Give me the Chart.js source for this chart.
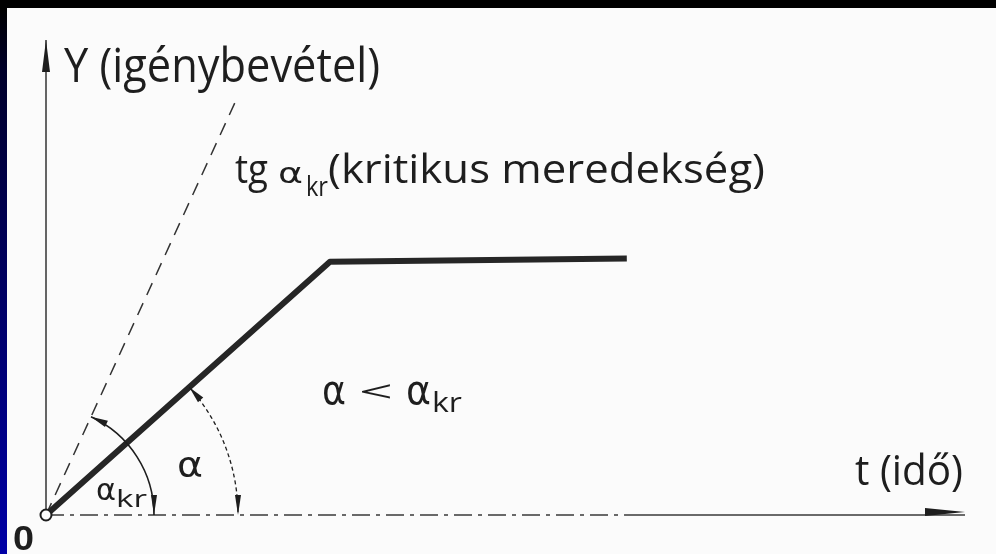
<!DOCTYPE html>
<html>
<head>
<meta charset="utf-8">
<title>Igénybevétel – kritikus meredekség</title>
<script src="https://cdn.jsdelivr.net/npm/chart.js@4.4.0/dist/chart.umd.min.js"></script>
<style>
  html, body { margin: 0; padding: 0; width: 996px; height: 554px; overflow: hidden; }
  body {
    position: relative;
    background: linear-gradient(to bottom, #000 0px, #000 8px, #00002a 70px, #0000a6 554px);
  }
  .paper { position: absolute; left: 7px; top: 8px; right: 0; bottom: 0; background: #fbfbfb; }
  canvas { position: absolute; left: 0; top: 0; }
</style>
</head>
<body>
<div class="paper"></div>
<canvas id="chart" width="996" height="554"></canvas>
<script>
// load curve: ramps up, then stays level
const loadT = [0, 3.09, 6.32];
const loadY = [0, 5.33, 5.40];
// critical slope line
const critT = [0, 2.07];
const critY = [0, 8.74];
// axis extents, time axis is dashed up to dashEndT
const tMax = 10;
const yMax = 10;
const dashEndT = 6.3;

const ink = '#1e1e1e';
const plain = '{s}px "Open Sans", "DejaVu Sans", sans-serif';
const greek = '{s}px "DejaVu Sans", sans-serif';

const pts = (xs, ys) => xs.map((x, i) => ({ x, y: ys[i] }));

function arrowHead(ctx, tipX, tipY, dx, dy, len, half) {
  const bx = tipX - dx * len, by = tipY - dy * len;
  ctx.beginPath();
  ctx.moveTo(tipX, tipY);
  ctx.lineTo(bx - dy * half, by + dx * half);
  ctx.lineTo(bx + dy * half, by - dx * half);
  ctx.closePath();
  ctx.fill();
}

// text squeezed/stretched to a given width (lettering is narrow)
function fitText(ctx, text, x, baseline, width, size, font) {
  ctx.save();
  ctx.font = (font || plain).replace('{s}', size);
  const w = ctx.measureText(text).width;
  ctx.translate(x, baseline);
  ctx.scale(width / w, 1);
  ctx.fillText(text, 0, 0);
  ctx.restore();
}

function angleArc(ctx, ox, oy, r, theta, dash, width) {
  ctx.save();
  ctx.lineWidth = width;
  ctx.setLineDash(dash);
  ctx.beginPath();
  ctx.arc(ox, oy, r, -theta, 0);
  ctx.stroke();
  ctx.restore();
  // arrow onto the slanted line and down onto the time axis
  const px = ox + r * Math.cos(theta), py = oy - r * Math.sin(theta);
  arrowHead(ctx, px, py, -Math.sin(theta), -Math.cos(theta), 17, 3.5);
  arrowHead(ctx, ox + r, oy, 0, 1, 20, 3);
}

const sketch = {
  id: 'sketch',
  afterDatasetsDraw(chart) {
    const { ctx, scales: { x, y } } = chart;
    const ox = x.getPixelForValue(0), oy = y.getPixelForValue(0);
    const angle = (t, v) => Math.atan2(oy - y.getPixelForValue(v), x.getPixelForValue(t) - ox);

    ctx.save();
    ctx.fillStyle = ink;
    ctx.strokeStyle = ink;

    arrowHead(ctx, ox, y.getPixelForValue(yMax), 0, -1, 32, 4);
    arrowHead(ctx, x.getPixelForValue(tMax), oy - 3, 1, 0, 40, 4);

    angleArc(ctx, ox, oy, 108, angle(critT[1], critY[1]), [], 1.6);
    angleArc(ctx, ox, oy, 192, angle(loadT[1], loadY[1]), [4, 3], 1.3);

    fitText(ctx, 'Y (igénybevétel)', 64, 82, 316, 47);

    fitText(ctx, 'tg', 235, 183, 33, 40);
    fitText(ctx, 'α', 278, 183, 25, 29, greek);
    fitText(ctx, 'kr', 306, 196, 22, 27);
    fitText(ctx, '(kritikus meredekség)', 328, 183, 437, 40);

    fitText(ctx, 'α', 322, 404, 24, 40, greek);
    fitText(ctx, '<', 359, 402, 34, 30);
    fitText(ctx, 'α', 406, 404, 25, 40, greek);
    fitText(ctx, 'kr', 432, 412, 30, 27);

    fitText(ctx, 'α', 177, 477, 26, 36, greek);

    fitText(ctx, 'α', 96, 500, 20, 30, greek);
    fitText(ctx, 'kr', 116, 507, 31, 23);

    fitText(ctx, 't (idő)', 855, 485, 108, 42);

    fitText(ctx, '0', 13, 550, 21, 35, 'bold {s}px "Liberation Sans", Arial, sans-serif');
    ctx.restore();
  }
};

new Chart(document.getElementById('chart'), {
  type: 'scatter',
  data: {
    datasets: [
      {
        // origin ring, listed first so it sits on top
        data: [{ x: 0, y: 0 }],
        pointRadius: 5.5,
        pointBackgroundColor: '#fff',
        pointBorderColor: ink,
        pointBorderWidth: 2,
        clip: false
      },
      {
        data: pts(loadT, loadY),
        showLine: true,
        borderColor: '#262626',
        borderWidth: 6,
        borderJoinStyle: 'round',
        pointRadius: 0,
        clip: false
      },
      {
        data: pts(critT, critY),
        showLine: true,
        borderColor: '#333',
        borderWidth: 1.5,
        borderDash: [13, 9],
        pointRadius: 0,
        clip: false
      },
      {
        data: pts([0, dashEndT, tMax], [0, 0, 0]),
        showLine: true,
        borderColor: '#3a3a3a',
        borderWidth: 1.5,
        pointRadius: 0,
        clip: false,
        segment: { borderDash: c => (c.p1DataIndex === 1 ? [18, 6, 4, 6] : []) }
      },
      {
        data: pts([0, 0], [0, yMax]),
        showLine: true,
        borderColor: '#333',
        borderWidth: 1.5,
        pointRadius: 0,
        clip: false
      }
    ]
  },
  options: {
    responsive: false,
    animation: false,
    events: [],
    layout: { padding: { left: 46, right: 31, top: 40, bottom: 39 } },
    scales: {
      x: { type: 'linear', min: 0, max: tMax, display: false },
      y: { type: 'linear', min: 0, max: yMax, display: false }
    },
    plugins: { legend: { display: false }, tooltip: { enabled: false } }
  },
  plugins: [sketch]
});
</script>
</body>
</html>
